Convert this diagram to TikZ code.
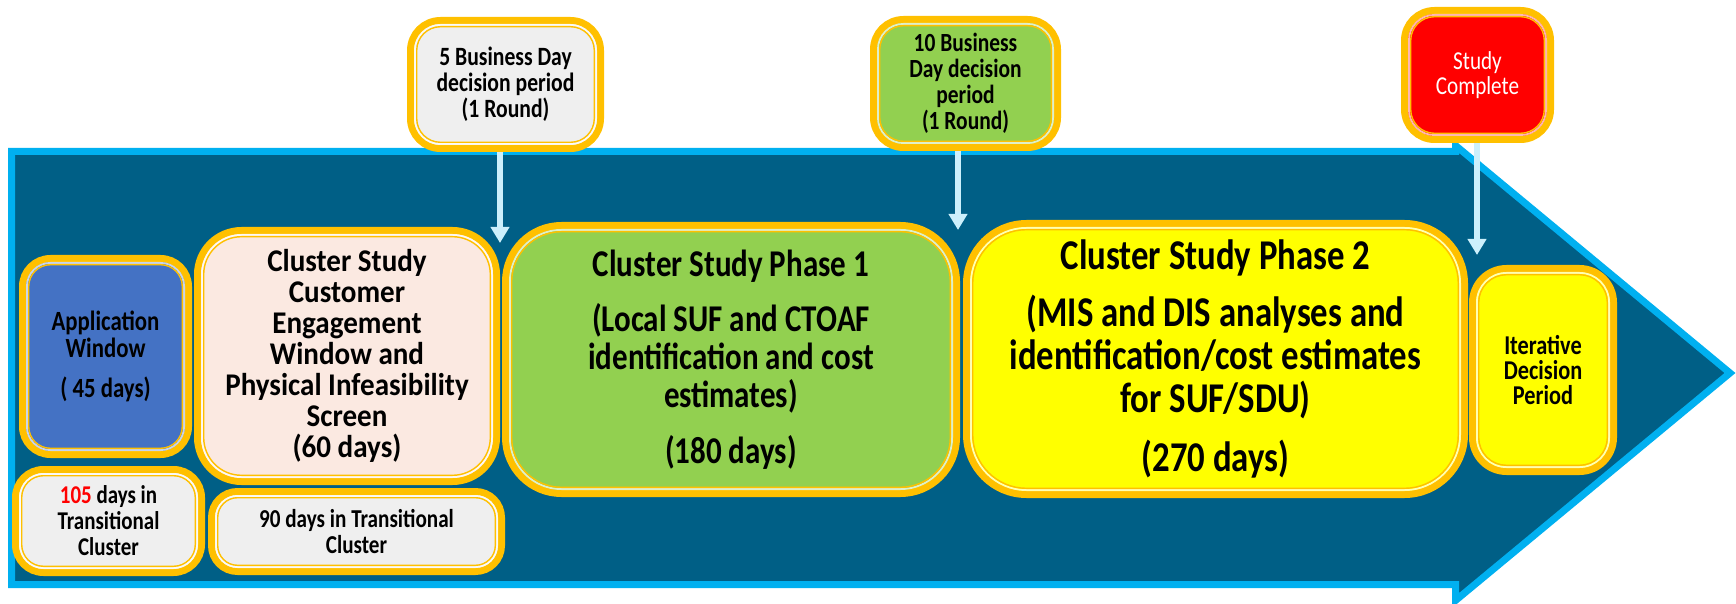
\documentclass[tikz,border=0pt]{standalone}
\usepackage{fontspec}
\setmainfont{Carlito}
\newfontfamily\cnd{Carlito}[FakeStretch=0.82]
\newfontfamily\cmid{Carlito}[FakeStretch=0.92]
\usetikzlibrary{arrows.meta}
\definecolor{gold}{HTML}{FFC000}
\definecolor{lb}{HTML}{00B0F0}
\definecolor{bodyc}{RGB}{0,95,134}
\definecolor{arrowc}{HTML}{CCF0FC}
\definecolor{pinkc}{HTML}{FBE9E1}
\definecolor{grayc}{HTML}{EFEFEF}
\definecolor{greenc}{HTML}{92D050}
\definecolor{yellowc}{HTML}{FFFF00}
\definecolor{redc}{HTML}{FF0000}
\definecolor{bluec}{HTML}{4472C4}
\tikzset{
  gbox/.style={draw=gold, line width=3.5pt, rounded corners=#1, inner sep=0pt, outer sep=0pt, align=center, text=black},
  conn/.style={draw=arrowc, line width=3pt, -{Triangle[width=9pt,length=8pt]}, shorten <=1.75pt},
  lightline/.style={draw=white, draw opacity=0.7, line width=0.9pt},
  goldline/.style={draw=gold, line width=0.7pt},
}
\begin{document}
\begin{tikzpicture}[x=0.5pt,y=-0.5pt]
\useasboundingbox (0,0) rectangle (1736,604);
% big arrow body
\path[fill=bodyc, draw=lb, line width=3.5pt, miter limit=10]
  (11.5,151.5) -- (1455.5,151.5) -- (1455.5,145.5) -- (1730,373) -- (1455.5,600.5) -- (1455.5,584.5) -- (11.5,584.5) -- cycle;

% top boxes
\node[gbox=15pt, fill=grayc, minimum width=95pt, minimum height=64pt,
  font=\cnd\bfseries\fontsize{13.2}{13}\selectfont] (bd5) at (505.5,84.5)
  {5 Business Day\\decision period\\(1 Round)};
\node[gbox=15pt, fill=greenc, minimum width=92pt, minimum height=64pt,
  font=\cnd\bfseries\fontsize{13.1}{13}\selectfont] (bd10) at (965.5,83.5)
  {10 Business\\Day decision\\period\\(1 Round)};
\node[gbox=15pt, fill=redc, minimum width=73pt, minimum height=64.5pt, text=white,
  font=\cnd\fontsize{12.9}{12.5}\selectfont] (sc) at (1477.5,75)
  {Study\\Complete};

% main row
\node[gbox=14pt, fill=bluec, minimum width=83pt, minimum height=98pt,
  font=\cnd\bfseries\fontsize{13.9}{13.5}\selectfont] (app) at (105.5,356.5)
  {Application\\Window\\[6.5pt]( 45 days)};
\node[gbox=22pt, fill=pinkc, minimum width=149.5pt, minimum height=125.5pt,
  font=\cmid\bfseries\fontsize{15.8}{15.5}\selectfont] (cust) at (347,356)
  {Cluster Study\\Customer\\Engagement\\Window and\\Physical Infeasibility\\Screen\\(60 days)};
\node[gbox=14pt, fill=grayc, minimum width=93pt, minimum height=51.5pt,
  font=\cnd\bfseries\fontsize{12.8}{13}\selectfont] (b105) at (108.5,521)
  {\textcolor{red}{105} days in\\Transitional\\Cluster};
\node[gbox=13pt, fill=grayc, minimum width=145pt, minimum height=40pt,
  font=\cnd\bfseries\fontsize{12.9}{13}\selectfont] (b90) at (356.5,531.5)
  {90 days in Transitional\\Cluster};
\node[gbox=28pt, fill=greenc, minimum width=225.5pt, minimum height=134pt,
  font=\cnd\bfseries\fontsize{18.9}{19}\selectfont] (ph1) at (731,359.5)
  {Cluster Study Phase 1\\[8.5pt](Local SUF and CTOAF\\identification and cost\\estimates)\\[9pt](180 days)};
\node[gbox=30pt, fill=yellowc, minimum width=249pt, minimum height=135.5pt,
  font=\cnd\bfseries\fontsize{21.2}{21.5}\selectfont] (ph2) at (1215.5,359)
  {Cluster Study Phase 2\\[7pt](MIS and DIS analyses and\\identification/cost estimates\\for SUF/SDU)\\[8pt](270 days)};
\node[gbox=17pt, fill=yellowc, minimum width=70.5pt, minimum height=101.5pt,
  font=\cnd\bfseries\fontsize{13.6}{12.5}\selectfont] (iter) at (1543,370)
  {Iterative\\Decision\\Period};

% inner decorative lines
\foreach \n/\ra/\rb in {bd5/12.8pt/11.9pt, bd10/12.8pt/11.9pt, sc/12.8pt/11.9pt,
  app/11.8pt/10.9pt, cust/19.8pt/18.9pt, b105/11.8pt/10.9pt, b90/10.8pt/9.9pt,
  ph1/25.8pt/24.9pt, ph2/27.8pt/26.9pt, iter/14.8pt/13.9pt}{
  \draw[lightline, rounded corners=\ra]
    ([shift={(2.2pt,-2.2pt)}]\n.north west) rectangle ([shift={(-2.2pt,2.2pt)}]\n.south east);
  \draw[goldline, rounded corners=\rb]
    ([shift={(3.1pt,-3.1pt)}]\n.north west) rectangle ([shift={(-3.1pt,3.1pt)}]\n.south east);
}

% connectors
\coordinate (t1) at (500,243);
\coordinate (t2) at (958,230);
\coordinate (t3) at (1477,255);
\draw[conn] (t1 |- bd5.south) -- (t1);
\draw[conn] (t2 |- bd10.south) -- (t2);
\draw[conn] (t3 |- sc.south) -- (t3);
\end{tikzpicture}
\end{document}
